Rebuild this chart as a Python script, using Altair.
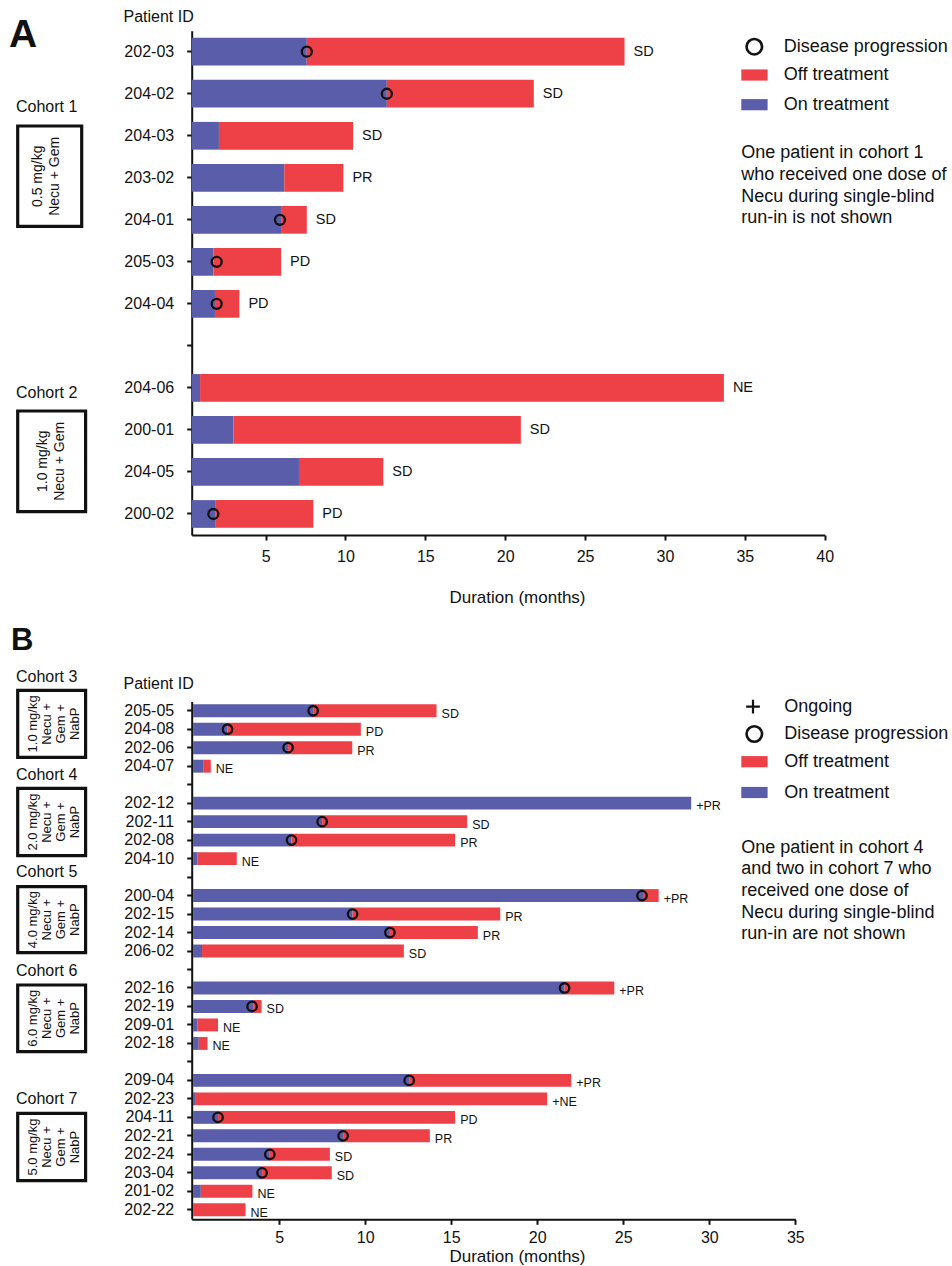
import altair as alt
import pandas as pd

# ---------------------------------------------------------------
# Panel A: cohorts 1-2 (Necu + Gem); durations in months
# ---------------------------------------------------------------
a_ids = ["202-03", "204-02", "204-03", "203-02", "204-01", "205-03", "204-04",
         "204-06", "200-01", "204-05", "200-02"]
a_on = [7.58, 12.59, 2.08, 6.17, 5.97, 1.73, 1.83, 0.90, 2.98, 7.09, 1.88]
a_total = [27.47, 21.79, 10.48, 9.87, 7.58, 5.97, 3.36, 33.69, 20.98, 12.37, 7.99]
a_prog = [7.58, 12.59, None, None, 5.90, 1.94, 1.94, None, None, None, 1.73]
a_resp = ["SD", "SD", "SD", "PR", "SD", "PD", "PD", "NE", "SD", "SD", "PD"]
a_rows = a_ids[:7] + ["gap-a1"] + a_ids[7:]
a_ticks = [5, 10, 15, 20, 25, 30, 35, 40]

# ---------------------------------------------------------------
# Panel B: cohorts 3-7 (Necu + Gem + NabP)
# ---------------------------------------------------------------
b_ids = ["205-05", "204-08", "202-06", "204-07",
         "202-12", "202-11", "202-08", "204-10",
         "200-04", "202-15", "202-14", "206-02",
         "202-16", "202-19", "209-01", "202-18",
         "209-04", "202-23", "204-11", "202-21", "202-24", "203-04", "201-02", "202-22"]
b_on = [6.98, 2.00, 5.52, 0.62,
        28.95, 7.50, 5.72, 0.26,
        26.20, 9.27, 11.44, 0.52,
        21.59, 3.49, 0.26, 0.33,
        12.56, 0.16, 1.45, 8.72, 4.46, 4.01, 0.45, 0.0]
b_total = [14.15, 9.75, 9.25, 1.03,
           28.95, 15.93, 15.23, 2.54,
           27.06, 17.85, 16.55, 12.25,
           24.48, 3.98, 1.45, 0.84,
           21.98, 20.58, 15.23, 13.76, 7.95, 8.06, 3.45, 3.05]
b_prog = [6.98, 2.00, 5.52, None,
          None, 7.50, 5.72, None,
          26.09, 9.27, 11.44, None,
          21.59, 3.43, None, None,
          12.56, None, 1.45, 8.72, 4.46, 4.01, None, None]
b_resp = ["SD", "PD", "PR", "NE",
          "+PR", "SD", "PR", "NE",
          "+PR", "PR", "PR", "SD",
          "+PR", "SD", "NE", "NE",
          "+PR", "+NE", "PD", "PR", "SD", "SD", "NE", "NE"]
b_rows = (b_ids[:4] + ["gap-b1"] + b_ids[4:8] + ["gap-b2"] + b_ids[8:12] + ["gap-b3"]
          + b_ids[12:16] + ["gap-b4"] + b_ids[16:])
b_ticks = [5, 10, 15, 20, 25, 30, 35]

# ---------------------------------------------------------------
# Styling
# ---------------------------------------------------------------
FONT = "Liberation Sans"
INK = "#111111"
RED = "#EE4047"
BLUE = "#5A5DA9"
W, H = 952, 1266
AXIS_X = 191.7  # pixel column of both y axes

ONE = pd.DataFrame({"k": [0]})


def frame(ids, on, total, prog, resp):
    return pd.DataFrame({"id": ids, "start": [0.0] * len(ids), "on": on,
                         "total": total, "prog": prog, "resp": resp})


def panel(df, rows, xdom, xrng, yrng, pad, ticks, axis_y, label_pad,
          title_y, pid_y, dot_size, txt_size, txt_dx, txt_dy):
    xs = alt.Scale(domain=xdom, range=xrng, clamp=True, nice=False, zero=False)
    ys = alt.Scale(domain=rows, range=yrng, paddingInner=pad, paddingOuter=pad / 2)
    xaxis = alt.Axis(orient="bottom", offset=axis_y - H, values=ticks, grid=False,
                     domainColor=INK, domainWidth=2, tickColor=INK, tickWidth=2,
                     tickSize=5, labelFont=FONT, labelFontSize=16, labelColor=INK,
                     labelPadding=label_pad, labelFlush=False,
                     title="Duration (months)", titleFont=FONT, titleFontSize=17,
                     titleFontWeight="normal", titleColor=INK, titleX=517,
                     titleY=title_y - axis_y, titleAlign="center",
                     titleBaseline="middle")
    yaxis = alt.Axis(orient="left", offset=-AXIS_X, grid=False, domainColor=INK,
                     domainWidth=2, tickColor=INK, tickWidth=2, tickSize=5,
                     labelFont=FONT, labelFontSize=16, labelColor=INK,
                     labelPadding=13,
                     labelExpr="indexof(datum.value, 'gap') == 0 ? '' : datum.value",
                     title="Patient ID", titleFont=FONT, titleFontSize=16,
                     titleFontWeight="normal", titleColor=INK, titleAngle=0,
                     titleAlign="left", titleBaseline="middle",
                     titleX=123 - AXIS_X, titleY=pid_y)
    base = alt.Chart(df)
    y = alt.Y("id:N", scale=ys, axis=yaxis)
    on_bar = base.mark_bar(color=BLUE).encode(
        x=alt.X("start:Q", scale=xs, axis=xaxis), x2=alt.X2("on"), y=y)
    off_bar = base.mark_bar(color=RED).encode(
        x=alt.X("on:Q", scale=xs, axis=xaxis), x2=alt.X2("total"), y=y)
    dots = base.mark_point(shape="circle", filled=False, color=INK, opacity=1,
                           size=dot_size, strokeWidth=2.3).encode(
        x=alt.X("prog:Q", scale=xs, axis=xaxis), y=y)
    labels = base.mark_text(align="left", baseline="middle", dx=txt_dx, dy=txt_dy,
                            font=FONT, fontSize=txt_size, color=INK).encode(
        x=alt.X("total:Q", scale=xs, axis=xaxis), y=y, text="resp:N")
    return alt.layer(on_bar, off_bar, dots, labels)


def text(t, x, y, size, weight="normal", align="left", angle=0, line_height=None):
    # for multi-line text, (x, y) is the position of the first line
    kw = dict(text=t, font=FONT, fontSize=size, fontWeight=weight, align=align,
              baseline="middle", color=INK, angle=angle)
    if line_height:
        kw["lineHeight"] = line_height
    return alt.Chart(ONE).mark_text(**kw).encode(x=alt.value(x), y=alt.value(y))


def box(x1, y1, x2, y2):
    return alt.Chart(ONE).mark_rect(fill="white", fillOpacity=0, stroke=INK,
                                    strokeWidth=3.2).encode(
        x=alt.value(x1), x2=alt.value(x2), y=alt.value(y1), y2=alt.value(y2))


def regimen(lines, xc, yc, size, lh):
    # vertical (rotated) caption block centred on (xc, yc)
    first_x = xc - (len(lines) - 1) * lh / 2
    return text(lines, first_x, yc, size, align="center", angle=270, line_height=lh)


def swatch(color, yc):
    return alt.Chart(ONE).mark_rect(color=color).encode(
        x=alt.value(741.3), x2=alt.value(767.6),
        y=alt.value(yc - 5.6), y2=alt.value(yc + 5.6))


def ring(yc):
    return alt.Chart(ONE).mark_point(shape="circle", filled=False, color=INK,
                                     opacity=1, size=240, strokeWidth=2.6).encode(
        x=alt.value(754.3), y=alt.value(yc))


def plus(yc):
    return alt.Chart(ONE).mark_point(shape="M-1,0L1,0M0,-1L0,1", filled=False,
                                     color=INK, opacity=1, size=190,
                                     strokeWidth=2.2).encode(
        x=alt.value(753), y=alt.value(yc))


panel_a = panel(frame(a_ids, a_on, a_total, a_prog, a_resp), a_rows,
                xdom=[0.375, 40], xrng=[AXIS_X, 824.7], yrng=[30.7, 535], pad=0.34,
                ticks=a_ticks, axis_y=535, label_pad=8, title_y=597, pid_y=16,
                dot_size=100, txt_size=14.5, txt_dx=9, txt_dy=0)

panel_b = panel(frame(b_ids, b_on, b_total, b_prog, b_resp), b_rows,
                xdom=[-0.08, 35], xrng=[AXIS_X, 795.3], yrng=[701.5, 1219], pad=0.3,
                ticks=b_ticks, axis_y=1219.3, label_pad=5, title_y=1256.7, pid_y=683.3,
                dot_size=90, txt_size=12.5, txt_dx=5, txt_dy=3)

LEG = 18
annotations = [
    # panel letters
    text("A", 9, 35, 39, weight="bold"),
    text("B", 11, 641, 31, weight="bold"),
    # cohort captions and boxed regimens, panel A
    text("Cohort 1", 16, 107, 16),
    box(17.7, 126, 81.7, 226.3),
    regimen(["0.5 mg/kg", "Necu + Gem"], 46.5, 176.3, 14, 17),
    text("Cohort 2", 16, 392.7, 16),
    box(17.7, 411, 85.6, 511.6),
    regimen(["1.0 mg/kg", "Necu + Gem"], 51.5, 461.3, 14, 17),
]

b_cohorts = [
    ("Cohort 3", 677.3, "1.0 mg/kg", 690.4, 757.3),
    ("Cohort 4", 775.0, "2.0 mg/kg", 788.4, 855.6),
    ("Cohort 5", 872.3, "4.0 mg/kg", 886.7, 952.6),
    ("Cohort 6", 970.7, "6.0 mg/kg", 985.0, 1051.6),
    ("Cohort 7", 1099.0, "5.0 mg/kg", 1113.4, 1180.6),
]
for name, ny, dose, y1, y2 in b_cohorts:
    annotations += [
        text(name, 16, ny, 16),
        box(17.7, y1, 85.6, y2),
        regimen([dose, "Necu +", "Gem +", "NabP"], 54.2, (y1 + y2) / 2, 13, 13.9),
    ]

# legends and footnotes
annotations += [
    ring(46.7), text("Disease progression", 783.7, 46.7, LEG),
    swatch(RED, 75.0), text("Off treatment", 783.7, 75.0, LEG),
    swatch(BLUE, 104.7), text("On treatment", 783.7, 104.7, LEG),
    text(["One patient in cohort 1", "who received one dose of",
          "Necu during single-blind", "run-in is not shown"],
         741.3, 153.3, LEG, line_height=21.7),
    plus(706.7), text("Ongoing", 784.3, 706.7, LEG),
    ring(734.0), text("Disease progression", 784.3, 734.0, LEG),
    swatch(RED, 761.7), text("Off treatment", 784.3, 761.7, LEG),
    swatch(BLUE, 792.5), text("On treatment", 784.3, 792.5, LEG),
    text(["One patient in cohort 4", "and two in cohort 7 who",
          "received one dose of", "Necu during single-blind",
          "run-in are not shown"],
         741.3, 847.7, LEG, line_height=21.7),
]

chart = (
    alt.layer(panel_a, panel_b, *annotations)
    .resolve_scale(x="independent", y="independent")
    .properties(width=W, height=H, padding=0,
                autosize=alt.AutoSizeParams(type="none"),
                background="white")
    .configure_view(stroke=None)
)

chart.save("out.html", embed_options={"renderer": "svg", "actions": False})
